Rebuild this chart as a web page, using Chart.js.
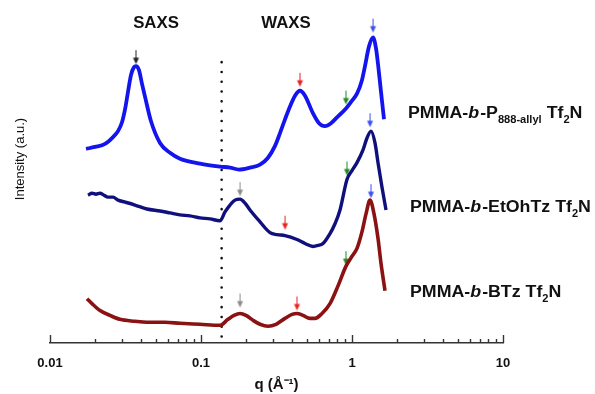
<!DOCTYPE html>
<html><head><meta charset="utf-8">
<script src="https://cdn.jsdelivr.net/npm/chart.js@4.4.1/dist/chart.umd.min.js"></script>
<style>html,body{margin:0;padding:0;background:#fff;}#wrap{width:595px;height:394px;position:relative;}</style>
</head><body><div id="wrap"><canvas id="c"></canvas></div>
<script>
// ---- data (q in Å^-1, intensity in arbitrary offset units) ----
const qAllyl = [0.01732,0.01986,0.02313,0.02614,0.02821,0.02998,0.03139,0.03286,0.03439,0.03600,0.03711,0.03885,0.04067,0.04257,0.04666,0.05352,0.06234,0.07259,0.09849,0.1336,0.1556,0.1785,0.2111,0.2459,0.2778,0.3091,0.3336,0.3600,0.3885,0.4193,0.4525,0.4884,0.5518,0.6046,0.6626,0.7261,0.7956,0.9124,1.000,1.079,1.165,1.219,1.296,1.378,1.442,1.487,1.556,1.629];
const iAllyl = [197,199,202,209,215,224,237,255,272,280,281,277,263,250,225,203,193,187,182,179,178,176,178,181,188,200,213,227,240,251,256,251,233,223,220,223,229,238,246,253,267,281,301,310,299,283,255,227];

const qEtOh = [0.01785,0.01897,0.02017,0.02144,0.02278,0.02422,0.02614,0.02821,0.03139,0.03655,0.04388,0.05352,0.06234,0.07259,0.08456,0.09849,0.1147,0.1336,0.1442,0.1556,0.1679,0.1813,0.1956,0.2111,0.2459,0.2864,0.3187,0.3600,0.4322,0.4884,0.5518,0.5955,0.6427,0.7151,0.7717,0.8328,0.9265,1.000,1.079,1.183,1.257,1.336,1.420,1.487,1.580,1.680];
const iEtOh = [150,152,151,152,150,148,148,145,143,140,136,134,132,130,129,127,126,124,133,140,145,146,142,135,123,112,110,109,105,101,98,99,101,111,121,135,166,175,183,196,208,215,203,183,158,135];

const qBTz = [0.01758,0.01897,0.02144,0.02497,0.02908,0.03655,0.04388,0.05776,0.07259,0.09849,0.1336,0.1509,0.1654,0.1813,0.1986,0.2210,0.2459,0.2778,0.3139,0.3600,0.4005,0.4322,0.4737,0.5271,0.5689,0.6330,0.7151,0.8079,0.9124,1.000,1.079,1.165,1.238,1.316,1.399,1.487,1.556,1.654];
const iBTz = [45,40,33,28,24,22,21,21,20,19,18,24,28,30,28,23,19,17,19,25,29,30,28,25,25,30,40,58,78,88,96,113,131,145,131,106,81,53];

// peak marker arrows (tip position)
const arrowQ = [0.03711,0.4525,0.9124,1.378, 0.1813,0.3600,0.9265,1.316, 0.1813,0.4322,0.9124,1.336];
const arrowI = [283,260,242,315, 149,115,170,219, 36,33,79,147];
const arrowColor = ['#222222','#e8231f','#1f8a1f','#3a4ff0', '#8c8c8c','#e8231f','#1f8a1f','#3a4ff0', '#8c8c8c','#e8231f','#1f8a1f','#3a4ff0'];

// SAXS / WAXS boundary
const boundaryQ = [0.137,0.137];
const boundaryI = [285,5];

const tickValues = [0.01,0.1,1,10];
const tickLabels = ['0.01','0.1','1','10'];
const regionLabels = ['SAXS','WAXS'];
const seriesLabels = [
  [['PMMA-',''],['b','i'],['-P',''],['888-allyl','s'],[' Tf',''],['2','s'],['N','']],
  [['PMMA-',''],['b','i'],['-EtOhTz Tf',''],['2','s'],['N','']],
  [['PMMA-',''],['b','i'],['-BTz Tf',''],['2','s'],['N','']]
];
const xTitle = 'q (Å⁻¹)';
const yTitle = 'Intensity (a.u.)';

// ---- helpers ----
const pts = (xs, ys) => xs.map((x, k) => ({x, y: ys[k]}));
function makeArrow(color){
  const c = document.createElement('canvas');
  c.width = 9; c.height = 30;
  const g = c.getContext('2d');
  g.strokeStyle = color; g.fillStyle = color; g.lineWidth = 1;
  g.beginPath(); g.moveTo(4.5, 1); g.lineTo(4.5, 10); g.stroke();
  g.beginPath(); g.moveTo(1.5, 8.5); g.lineTo(7.5, 8.5); g.lineTo(4.5, 15); g.closePath(); g.fill();
  return c;
}
const FONT = '"Liberation Sans", Arial, sans-serif';

function drawRich(ctx, x, y, parts, sx){
  ctx.save();
  ctx.translate(x, y);
  ctx.scale(sx, 1);
  ctx.textBaseline = 'alphabetic';
  ctx.textAlign = 'left';
  ctx.fillStyle = '#111';
  let cx = 0;
  for (const [t, st] of parts){
    let dy = 0;
    if (st === 's'){ ctx.font = 'bold 10px ' + FONT; dy = 5; }
    else if (st === 'i'){ ctx.font = 'italic bold 16px ' + FONT; }
    else ctx.font = 'bold 16px ' + FONT;
    ctx.fillText(t, cx, dy);
    cx += ctx.measureText(t).width + (st === 'i' ? 1 : 0);
  }
  ctx.restore();
}

const decor = {
  id: 'decor',
  afterDraw(chart){
    const ctx = chart.ctx;
    const xs = chart.scales.x;
    const base = chart.chartArea.bottom;
    ctx.save();
    ctx.strokeStyle = '#333'; ctx.lineWidth = 1.4;
    for (const d of [0.01, 0.1, 1]){
      for (let m = 1; m <= 9; m++){
        const px = Math.round(xs.getPixelForValue(m * d)) + 0.5;
        const len = m === 1 ? 8 : 4;
        ctx.beginPath(); ctx.moveTo(px, base); ctx.lineTo(px, base - len); ctx.stroke();
      }
    }
    const p10 = Math.round(xs.getPixelForValue(10)) + 0.5;
    ctx.beginPath(); ctx.moveTo(p10, base); ctx.lineTo(p10, base - 8); ctx.stroke();
    ctx.restore();

    // region labels
    ctx.save();
    ctx.font = 'bold 16px ' + FONT;
    ctx.fillStyle = '#111'; ctx.textAlign = 'center'; ctx.textBaseline = 'alphabetic';
    [[156, 28], [286, 28]].forEach((p, k) => {
      ctx.save(); ctx.translate(p[0], p[1]); ctx.scale(1.05, 1); ctx.fillText(regionLabels[k], 0, 0); ctx.restore();
    });
    ctx.restore();

    // series labels
    const pos = [[408, 118], [410, 212], [410, 297]];
    seriesLabels.forEach((parts, k) => drawRich(ctx, pos[k][0], pos[k][1], parts, 1.11));

    // y title
    ctx.save();
    ctx.translate(20, 159);
    ctx.rotate(-Math.PI / 2);
    ctx.font = '13px ' + FONT;
    ctx.fillStyle = '#111'; ctx.textAlign = 'center'; ctx.textBaseline = 'middle';
    ctx.fillText(yTitle, 0, 0);
    ctx.restore();
  }
};

const lineDs = (label, data, color, w) => ({
  label, data, borderColor: color, backgroundColor: color, borderWidth: w,
  pointRadius: 0, cubicInterpolationMode: 'monotone', fill: false, clip: false
});

new Chart(document.getElementById('c'), {
  type: 'line',
  data: {
    datasets: [
      lineDs('PMMA-b-P888-allyl Tf2N', pts(qAllyl, iAllyl), '#1414ee', 3.8),
      lineDs('PMMA-b-EtOhTz Tf2N', pts(qEtOh, iEtOh), '#10107c', 3.4),
      lineDs('PMMA-b-BTz Tf2N', pts(qBTz, iBTz), '#8a1212', 3.6),
      { label: 'boundary', data: pts(boundaryQ, boundaryI), borderColor: '#111', borderWidth: 2.6,
        borderDash: [0, 9.8], borderCapStyle: 'round', pointRadius: 0, fill: false, clip: false },
      { label: 'peaks', data: pts(arrowQ, arrowI), showLine: false, clip: false,
        pointStyle: arrowColor.map(makeArrow), pointRadius: 5, borderWidth: 0 }
    ]
  },
  options: {
    responsive: true, maintainAspectRatio: false, animation: false,
    layout: { padding: { left: 50, right: 92, top: 0, bottom: 0 } },
    plugins: { legend: { display: false }, tooltip: { enabled: false } },
    scales: {
      x: {
        type: 'logarithmic', min: 0.01, max: 10,
        afterFit: s => { s.height = 51; },
        afterBuildTicks: s => { s.ticks = tickValues.map(v => ({ value: v })); },
        grid: { display: false },
        border: { display: true, color: '#333', width: 1.5 },
        ticks: { autoSkip: false, maxRotation: 0, padding: 5, color: '#111',
          font: { family: FONT, size: 13, weight: 'bold' },
          callback: (v, idx) => tickLabels[idx] },
        title: { display: true, text: xTitle, color: '#111', padding: 0,
          font: { family: FONT, size: 15, weight: 'bold' } }
      },
      y: { display: false, min: 0, max: 343 }
    }
  },
  plugins: [decor]
});
</script></body></html>
